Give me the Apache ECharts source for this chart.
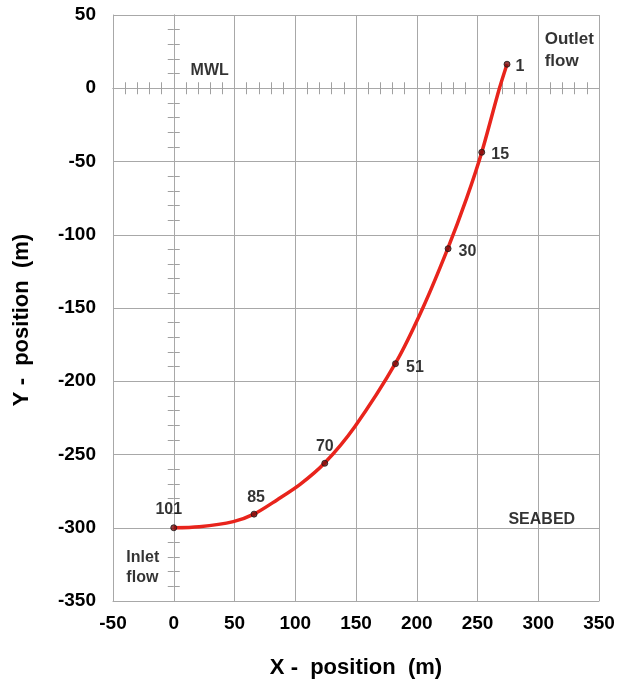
<!DOCTYPE html>
<html>
<head>
<meta charset="utf-8">
<script src="https://cdn.jsdelivr.net/npm/echarts@6/dist/echarts.min.js"></script>
<style>
html,body{margin:0;padding:0;background:#fff;}
#chart{width:618px;height:686px;}
</style>
</head>
<body>
<div id="chart"></div>
<script>
// Profile of the pipe (x, y)
const curveX = [0, 21, 49, 66, 85, 104, 124, 149, 183, 205, 225.5, 241, 253.5, 268, 274.3];
const curveY = [-300, -299.3, -295.8, -290.7, -281, -270.4, -256, -231, -187, -150, -109.5, -75.2, -43.7, -0.2, 16.4];

// Labelled nodes
const nodeNames = ['1', '15', '30', '51', '70', '85', '101'];
const nodeX = [274.3, 253.5, 225.8, 182.5, 124.3, 66.1, 0];
const nodeY = [16.4, -43.7, -109.5, -188, -256, -290.7, -300];

// Annotations
const noteText = ['MWL', 'Outlet\nflow', 'SEABED', 'Inlet\nflow'];
const noteX = [29.6, 305.3, 302.9, -39];
const noteY = [12.3, 25.9, -294.2, -327];

// Axis ticks
const xMin = -50, xMax = 350, xStep = 50;
const yMin = -350, yMax = 50, yStep = 50;
const xTitle = 'X -  position  (m)';
const yTitle = 'Y -  position  (m)';

const FONT = '"Liberation Sans", Arial, sans-serif';
const GRID_COLOR = '#a8a8a8';
const TICK_COLOR = '#a0a0a0';

const chart = echarts.init(document.getElementById('chart'), null, {renderer: 'canvas'});

const curveData = curveX.map((x, i) => [x, curveY[i]]);

const nodeLabelCfg = {
  '1':   {position: 'right', distance: 5, offset: [0, 2]},
  '15':  {position: 'right', distance: 6, offset: [0, 2]},
  '30':  {position: 'right', distance: 7, offset: [0, 3]},
  '51':  {position: 'right', distance: 7, offset: [0, 4]},
  '70':  {position: 'top', distance: 5, offset: [0, 0]},
  '85':  {position: 'top', distance: 5, offset: [2, 0]},
  '101': {position: 'top', distance: 7, offset: [-5, 0]}
};
const nodeData = nodeNames.map((n, i) => ({
  name: n,
  value: [nodeX[i], nodeY[i]],
  label: nodeLabelCfg[n]
}));

const noteData = noteText.map((t, i) => ({
  name: t,
  value: [noteX[i], noteY[i]],
  label: {
    align: i === 0 || i === 2 ? 'center' : 'left',
    fontSize: i === 1 ? 17 : 16,
    lineHeight: i === 1 ? 22 : 20
  }
}));

function zeroXAxis(inside) {
  return {
    type: 'value', min: xMin, max: xMax, interval: xStep, position: 'bottom',
    axisLine: {show: true, onZero: true, onZeroAxisIndex: 0, lineStyle: {color: GRID_COLOR, width: 1}},
    axisTick: {show: false, inside: inside},
    minorTick: {show: true, splitNumber: 5, length: 6, lineStyle: {color: TICK_COLOR, width: 1}},
    axisLabel: {show: false},
    splitLine: {show: false}
  };
}
function zeroYAxis(inside) {
  return {
    type: 'value', min: yMin, max: yMax, interval: yStep, position: 'left',
    axisLine: {show: true, onZero: true, onZeroAxisIndex: 0, lineStyle: {color: GRID_COLOR, width: 1}},
    axisTick: {show: false, inside: inside},
    minorTick: {show: true, splitNumber: 5, length: 6, lineStyle: {color: TICK_COLOR, width: 1}},
    axisLabel: {show: false},
    splitLine: {show: false}
  };
}

const option = {
  backgroundColor: '#ffffff',
  animation: false,
  grid: {left: 113, right: 19, top: 15, bottom: 85, containLabel: false},
  graphic: [
    {type: 'text', x: 356, y: 668,
      style: {text: xTitle, font: 'bold 22px ' + FONT, fill: '#000', align: 'center', verticalAlign: 'middle'}},
    {type: 'text', x: 22, y: 320, rotation: Math.PI / 2,
      style: {text: yTitle, font: 'bold 22px ' + FONT, fill: '#000', align: 'center', verticalAlign: 'middle'}}
  ],
  xAxis: [
    {
      type: 'value', min: xMin, max: xMax, interval: xStep, position: 'bottom',
      axisLine: {show: true, onZero: false, lineStyle: {color: GRID_COLOR}},
      axisTick: {show: false},
      axisLabel: {fontFamily: FONT, fontWeight: 'bold', fontSize: 19, color: '#000', margin: 13},
      splitLine: {show: true, lineStyle: {color: GRID_COLOR, width: 1}}
    },
    zeroXAxis(false),
    zeroXAxis(true)
  ],
  yAxis: [
    {
      type: 'value', min: yMin, max: yMax, interval: yStep, position: 'left',
      axisLine: {show: true, onZero: false, lineStyle: {color: GRID_COLOR}},
      axisTick: {show: false},
      axisLabel: {fontFamily: FONT, fontWeight: 'bold', fontSize: 19, color: '#000', margin: 17},
      splitLine: {show: true, lineStyle: {color: GRID_COLOR, width: 1}}
    },
    zeroYAxis(false),
    zeroYAxis(true)
  ],
  series: [
    {
      type: 'line', xAxisIndex: 0, yAxisIndex: 0,
      data: curveData, smooth: 0.3, showSymbol: false, symbol: 'none',
      lineStyle: {color: '#e8241c', width: 3.5},
      z: 3
    },
    {
      type: 'scatter', xAxisIndex: 0, yAxisIndex: 0,
      data: nodeData, symbol: 'circle', symbolSize: 6,
      itemStyle: {color: '#7a0d0d', borderColor: '#1a1a1a', borderWidth: 1},
      label: {show: true, formatter: '{b}', fontFamily: FONT, fontWeight: 'bold', fontSize: 16, color: '#000'},
      z: 5
    },
    {
      type: 'scatter', xAxisIndex: 0, yAxisIndex: 0,
      data: noteData, symbolSize: 0, silent: true,
      label: {show: true, position: 'inside', formatter: '{b}', verticalAlign: 'middle',
        fontFamily: FONT, fontWeight: 'bold', fontSize: 16, color: '#000'},
      z: 6
    }
  ]
};
chart.setOption(option);
</script>
</body>
</html>
